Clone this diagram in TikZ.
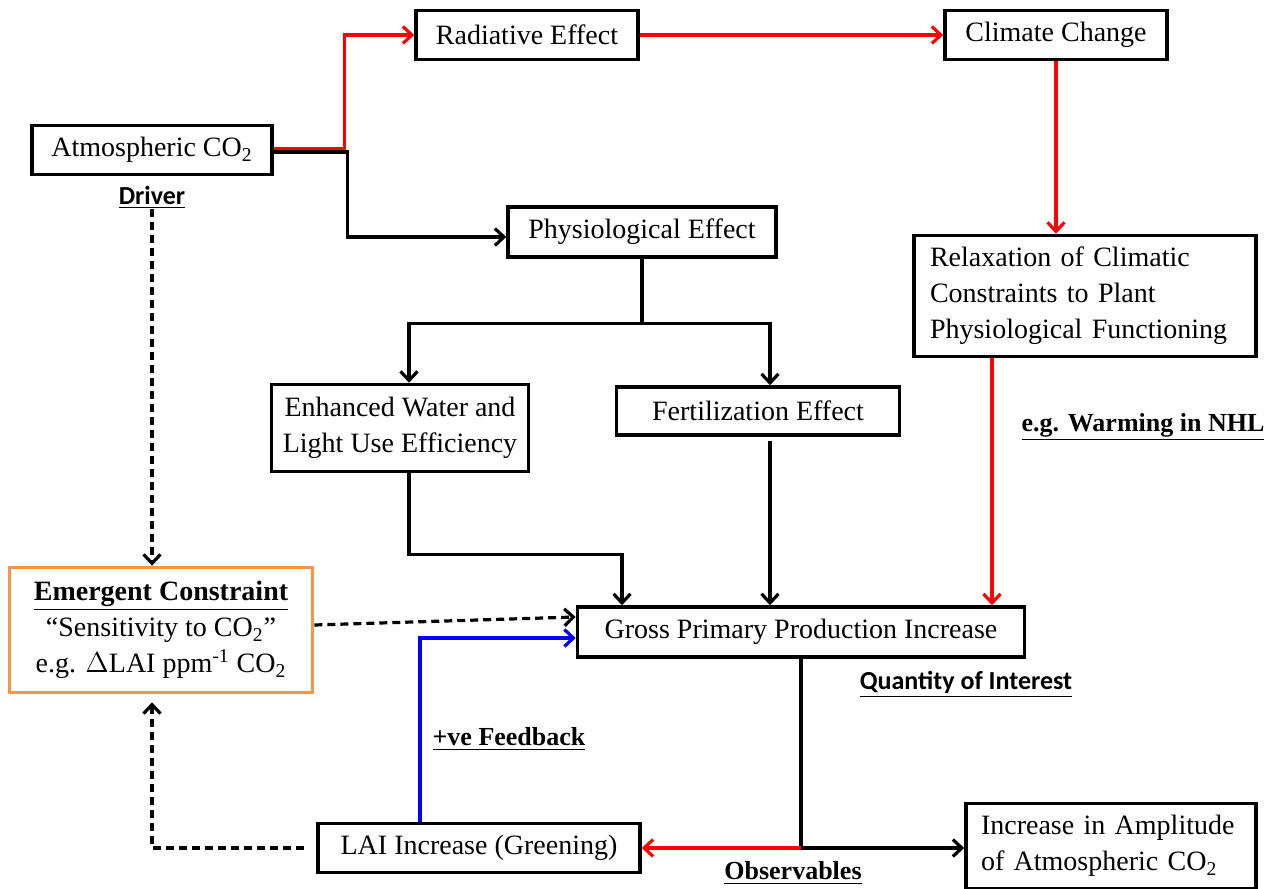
\documentclass[tikz,border=0pt]{standalone}
\usepackage{fontspec}
\setmainfont{Liberation Serif}
\newfontfamily\calibri{Carlito}
\usepackage{tikz}
\usetikzlibrary{positioning,arrows.meta,calc}

\definecolor{boxorange}{RGB}{247,150,70}

\begin{document}
\begin{tikzpicture}[x=0.5pt,y=-0.5pt,
  >={Straight Barb[length=4.5pt,width=8.5pt]},
  box/.style={draw, line width=1.8pt, fill=white, inner sep=0pt, minimum height=24.5pt, font=\fontsize{14}{18}\selectfont},
  tag/.style={inner sep=0pt, font=\fontsize{13}{15}\selectfont\bfseries},
  ctag/.style={inner sep=0pt, font=\fontsize{13}{15}\selectfont\calibri\bfseries},
  link/.style={line width=1.6pt},
  redlink/.style={line width=1.6pt, color=red},
  bluelink/.style={line width=1.6pt, color=blue},
  dashlink/.style={line width=1.6pt, dash pattern=on 4pt off 2.5pt}]
\useasboundingbox (0,0) rectangle (1273,888);

% boxes
\node[box, minimum width=120pt] (atm) at (152,150) {Atmospheric CO\textsubscript{2}};
\node[box, minimum width=111pt] (rad) at (527,35) {Radiative Effect};
\node[box, minimum width=111pt] (clim) at (1056,35) {Climate Change};
\node[box, minimum width=134pt, minimum height=25pt] (phys) at (642,232) {Physiological Effect};
\node[box, inner xsep=8pt, text width=155pt, minimum height=60.5pt, align=left] (relax) at (1085,296) {Relaxation of Climatic\\Constraints to Plant\\Physiological Functioning};
\node[box, minimum width=128.5pt, minimum height=43.5pt, align=center] (enh) at (400,428) {Enhanced Water and\\Light Use Efficiency};
\node[box, minimum width=141.5pt, minimum height=24pt] (fert) at (758,411) {Fertilization Effect};
\node[box, draw=boxorange, minimum width=151.5pt, minimum height=62.5pt, align=center] (emc) at (161,630) {\textbf{\underline{Emergent Constraint}}\\``Sensitivity to CO\textsubscript{2}''\\e.g. $\Delta$LAI ppm\textsuperscript{-1} CO\textsubscript{2}};
\node[box, minimum width=223.5pt, minimum height=25pt] (gpp) at (801,632) {Gross Primary Production Increase};
\node[box, minimum width=161pt] (lai) at (479,848) {LAI Increase (Greening)};
\node[box, inner xsep=7.5pt, text width=130pt, minimum height=42.5pt, align=left] (incr) at (1111,846) {Increase in Amplitude\\of Atmospheric CO\textsubscript{2}};

% labels
\node[ctag] (driver) at (152,197) {\underline{Driver}};
\node[tag] (warm) at (1143,427) {\underline{e.g. Warming in NHL}};
\node[ctag] (qoi) at (966,684) {\underline{Quantity of Interest}};
\node[tag] (fb) at (509,739) {\underline{+ve Feedback}};
\node[tag] (obs) at (793,873) {\underline{Observables}};

% physiological path
\draw[link,->] ([yshift=-1pt]atm.east) -- ++(74,0) |- ([yshift=-2.5pt]phys.west);
\coordinate (split) at ($(phys.south)+(0,65)$);
\draw[link] (phys.south) -- (split);
\draw[link,->] (split) -| ([xshift=4.5pt]enh.north);
\draw[link,->] (split) -| ([xshift=6pt]fert.north);
\draw[link,->] ([xshift=4.5pt]enh.south) -- ++(0,81) -| ([xshift=-89.5pt]gpp.north);
\draw[link,->] ([xshift=6pt,yshift=-2pt]fert.south) -- ([xshift=6pt]fert.south |- gpp.north);

% radiative path
\draw[redlink,->] ([yshift=0.6pt]atm.east) -- ++(71,0) |- (rad.west);
\draw[redlink,->] (rad.east) -- (clim.west);
\draw[redlink,->] (clim.south) -- (clim.south |- relax.north);
\draw[redlink,->] ([xshift=-46.5pt]relax.south) -- ([xshift=-46.5pt]relax.south |- gpp.north);

% emergent constraint
\draw[dashlink,->] (driver.south) -- (driver.south |- emc.north);
\draw[dashlink,->] ([yshift=2.5pt]emc.east) -- ([yshift=7.5pt]gpp.west);
\draw[dashlink,->] ([xshift=-6pt]lai.west) -| ($(driver.south |- emc.south)+(0,8)$);

% observables
\draw[link] (gpp.south) -- (gpp.south |- lai.east);
\draw[redlink,->] (gpp.south |- lai.east) -- (lai.east);
\draw[link,->] (gpp.south |- lai.east) -- (incr.west |- lai.east);
\draw[bluelink,->] ([xshift=-29.5pt]lai.north) |- ([yshift=-3pt]gpp.west);
\end{tikzpicture}
\end{document}
